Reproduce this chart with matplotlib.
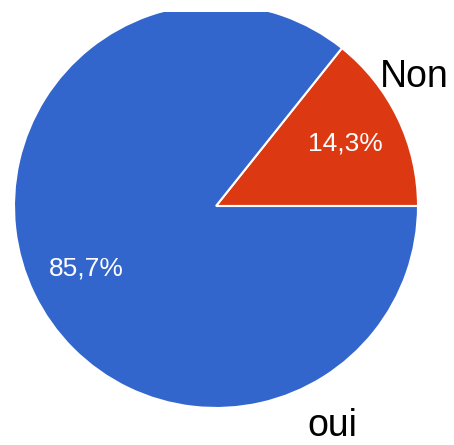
import matplotlib
matplotlib.use("Agg")
import matplotlib.pyplot as plt

# survey answers
answers = ["Non", "oui"]
counts = [1, 6]
colors = ["#dc3912", "#3366cc"]

plt.rcParams["font.family"] = ["Liberation Sans", "DejaVu Sans"]

W, H = 454, 445
fig = plt.figure(figsize=(W / 100, H / 100), dpi=100)

# pie centre / radius in pixels, top of the image is cut off
cx, cy, rad, top_cut = 216, 206, 202, 12
ax = fig.add_axes([0, 0, 1, (H - top_cut) / H])

wedges, texts, autotexts = ax.pie(
    counts,
    colors=colors,
    startangle=0,
    counterclock=True,
    autopct=lambda p: f"{p:.1f}%".replace(".", ","),
    pctdistance=0.71,
    wedgeprops={"edgecolor": "white", "linewidth": 1.5},
    textprops={"color": "white", "fontsize": 19},
)
for w in wedges:
    w.set_clip_on(True)
    w.set_clip_path(ax.patch)

ax.set_aspect("auto")
ax.set_xlim(-cx / rad, (W - cx) / rad)
ax.set_ylim(-(H - cy) / rad, (cy - top_cut) / rad)
ax.axis("off")

# category labels placed outside the pie
ax.text(0.98, 0.64, answers[0], ha="center", va="center", fontsize=27, color="black")
ax.text(0.574, -1.09, answers[1], ha="center", va="center", fontsize=27, color="black")

fig.savefig("out.png", dpi=100)
